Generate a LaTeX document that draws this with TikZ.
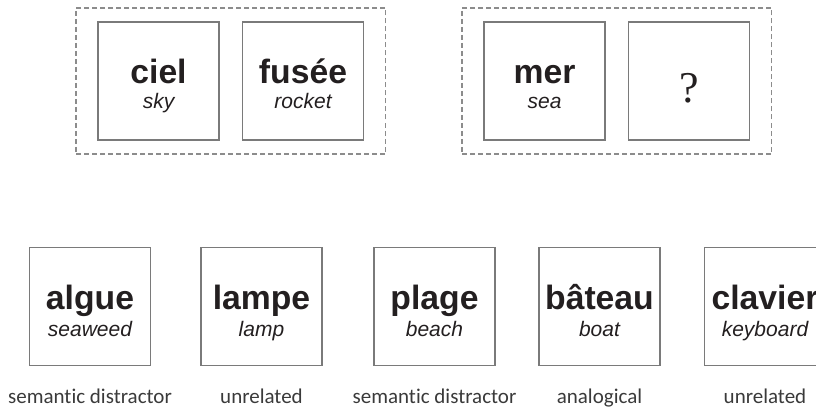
\documentclass[tikz,border=0pt]{standalone}
\usepackage{fontspec}
\usetikzlibrary{fit}
\newfontfamily\wordfont{Liberation Sans}
\newfontfamily\labfont[Ligatures=NoCommon]{Carlito}
\newfontfamily\qfont{Liberation Serif}
\definecolor{inkc}{HTML}{231F20}
\definecolor{labc}{HTML}{3A3A3A}
\definecolor{cardc}{HTML}{7A7A7A}
\definecolor{dashc}{HTML}{8C8C8C}
\tikzset{
  card/.style={draw=cardc, line width=1.6pt, minimum width=121pt, minimum height=118pt, inner sep=0pt, outer sep=0pt},
  word/.style={font=\wordfont\bfseries\fontsize{33.7}{36}\selectfont, text=inkc, anchor=base, inner sep=0pt},
  trans/.style={font=\wordfont\itshape\fontsize{21}{24}\selectfont, text=inkc, anchor=base, inner sep=0pt},
  lab/.style={font=\labfont\fontsize{21}{24}\selectfont, text=labc, anchor=base, inner sep=0pt},
  dashbox/.style={draw=dashc, line width=1.2pt, dash pattern=on 5pt off 3pt, inner xsep=22pt, inner ysep=14pt},
}
\begin{document}
\begin{tikzpicture}[x=1pt,y=-1pt]
\useasboundingbox (0,0) rectangle (816,409);
\clip (0,0) rectangle (816,409);
% top cards
\node[card] (ciel) at (158.5,81) {};
\node[card] (fusee) at (303,81) {};
\node[card] (mer) at (544.5,81) {};
\node[card] (q) at (689,81) {};
\node[dashbox, fit=(ciel)(fusee)] (pairA) {};
\node[dashbox, fit=(mer)(q)] (pairB) {};
\node[word] (cielw) at ([yshift=-3pt]ciel.center) {ciel};
\node[trans] (cielt) at ([yshift=-28pt]ciel.center) {sky};
\node[word] (fuseew) at ([yshift=-3pt]fusee.center) {fusée};
\node[trans] (fuseet) at ([yshift=-28pt]fusee.center) {rocket};
\node[word] (merw) at ([yshift=-3pt]mer.center) {mer};
\node[trans] (mert) at ([yshift=-28pt]mer.center) {sea};
\node[font=\qfont\fontsize{44}{48}\selectfont, text=inkc, anchor=base, inner sep=0pt] (qm) at ([yshift=-22pt]q.center) {?};
% bottom cards
\node[card] (algue) at (90,306.5) {};
\node[card] (lampe) at (261.5,306.5) {};
\node[card] (plage) at (434.5,306.5) {};
\node[card] (bateau) at (599.5,306.5) {};
\node[card] (clavier) at (765,306.5) {};
\foreach \n/\w/\t/\l in {algue/algue/seaweed/semantic distractor,
                         lampe/lampe/lamp/unrelated,
                         plage/plage/beach/semantic distractor,
                         bateau/bâteau/boat/analogical,
                         clavier/clavier/keyboard/unrelated}{
  \node[word] (\n w) at ([yshift=-3pt]\n.center) {\w};
  \node[trans] (\n t) at ([yshift=-30pt]\n.center) {\t};
  \node[lab] (\n l) at ([yshift=-96.5pt]\n.center) {\l};
}
\end{tikzpicture}
\end{document}
